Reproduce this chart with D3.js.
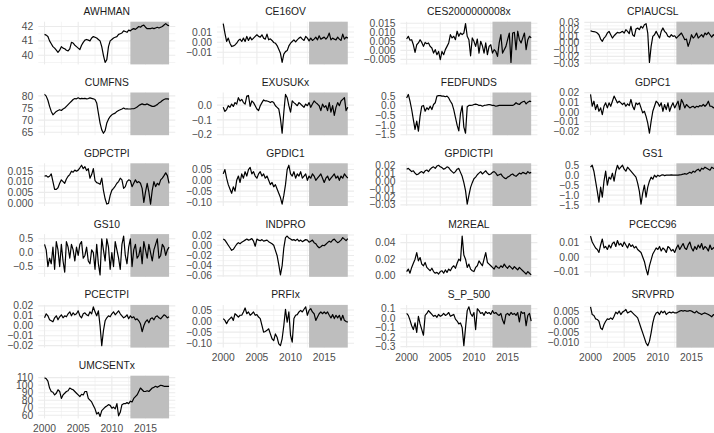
<!DOCTYPE html>
<html>
<head>
<meta charset="utf-8">
<script src="https://cdn.jsdelivr.net/npm/d3@7"></script>
<style>
  body { margin: 0; background: #fff; }
  svg { display: block; }
  text { font-family: "Liberation Sans", Arial, sans-serif; font-size: 10.3px; }
</style>
</head>
<body>
<svg id="chart" width="714" height="433"></svg>
<script>
// quarterly observations, first one is 2000Q1
const startYear = 2000;
const testStart = 2012.75, testEnd = 2018.5;
const xTicks = [2000, 2005, 2010, 2015];

const AWHMAN = [41.45,41.4,41.3,41.0,40.8,40.6,40.5,40.35,40.2,40.35,40.6,40.5,40.45,40.35,40.3,40.45,40.9,40.85,40.7,40.6,40.5,40.4,40.7,40.9,41.05,41.1,41.05,41.0,41.2,41.3,41.25,41.2,41.1,41.0,40.6,40.0,39.5,39.7,40.6,41.0,41.1,41.2,41.25,41.3,41.45,41.5,41.55,41.7,41.65,41.6,41.75,41.7,41.8,41.85,41.8,41.9,42.0,41.95,42.05,42.1,41.95,41.85,41.85,41.85,41.9,41.85,41.9,41.95,41.9,41.95,42.0,42.1,42.2,42.1,42.05];
const CE16OV = [18.3,9,0.7,4,-1,-4.3,-3.7,-2.7,-1,1.7,3,0.7,4,0.7,5.7,1.7,5,2.3,4,5.7,7.3,5.7,5,7.3,4,3,8,2.3,3.3,1.7,-0.3,-1,-3.3,-7,-11,-20,-11.7,-9.3,-8.3,-3.7,-1,0.7,2.3,0.3,2.3,4,5,3,1.7,5.7,4,1.3,4,1.7,3,5,2.3,6.3,3,4,5,3,5,9,2.3,4,3,2.3,5,3,1.7,8,3,5,4].map(v => v / 1000);
const CES2000000008x = [6.3,7.8,5.6,5.9,3.1,-1.1,3.1,4.1,5.9,4.4,2.2,4.4,3.7,4.1,2.2,1.3,-1.5,0.4,-2.4,-0.6,-5.2,-0.6,-2.4,0.4,2.2,4.1,8.7,6.9,7.8,5.9,10.6,7.8,9.6,8.7,9.6,14.8,7.8,5.9,-3,6.9,5,2.2,6.3,-1.5,5,2.6,-1.5,4.1,-2.4,2.2,3.1,-1.5,0.4,-0.6,-3.3,4.1,8.7,-1.5,0.4,2.2,5.9,9.6,-6.7,9.6,10,0.4,10.6,5.9,4.1,6.9,9.6,0.4,5.9,7.8,6.9].map(v => v / 1000);
const CPIAUCSL = [17.7,16.7,16.3,15.8,14.3,11.8,5.4,2,6.9,9.4,14.3,16.7,11.8,6.9,10.3,12.8,15.3,14.3,15.3,16.7,14.3,19.2,16.7,13.3,24.1,11.8,9.4,20.2,21.7,19.2,24.1,21.7,26.6,28.1,14.3,-29,-5.4,9.4,11.8,16.7,11.8,6.9,16.7,21.7,16.7,14.3,9.4,8.4,11.8,9.4,10.3,6.9,9.4,11.8,14.3,9.4,4.4,5.4,-5.4,2,11.8,6.9,9.4,14.3,6.9,9.4,11.8,8.4,14.3,11.8,15.3,11.8,8.4,11.8,9.4].map(v => v / 1000);
const CUMFNS = [80.6,79.9,78.2,75.7,73.6,72.2,72.9,73.6,74,74.3,74,74.6,75,75.7,76.4,77.1,77.8,78.5,78.9,78.8,79.2,78.8,79,78.9,79,78.8,78.9,79.2,79,78.8,78.5,77.1,72.9,68.8,66,64.6,65.7,68.8,70.4,71.5,72.2,72.6,72.9,73.6,74,74.3,74.6,75,74.6,74.7,74.6,74.6,74.7,74.7,75,75.4,76,76.4,76.7,76.4,76.4,76.7,76.3,76,75.7,75.7,76,76.4,77.1,77.5,78.1,78.5,78.8,78.8,78.7];
const EXUSUKx = [-1.5,-4.3,-3,-0.4,-1.5,0.7,-0.9,1.7,0.7,5,2.8,3.9,1.7,0.7,6.1,6.5,-0.9,2.8,1.7,-0.4,-2.6,-3.7,-0.4,1.7,3.5,2.8,2.8,2.4,1.7,2.4,1.7,-0.4,-1.5,-2.6,-9.1,-19,-4.8,7.2,5,-0.4,-4.8,2.8,1.7,0.7,-0.4,1.7,0.7,-0.4,-1.5,0.7,-0.4,1.7,-1.5,0.7,2.8,1.7,0.7,-0.4,-3.7,0.7,-1.5,-0.4,-3.7,1.7,-4.8,-0.4,-7,-1.5,1.7,-0.4,2.8,3.9,5,-3.7,-1.5].map(v => v / 100);
const FEDFUNDS = [0.41,0.59,0.24,-0.19,-0.71,-1.22,-0.79,-1.31,-0.53,-0.02,0.02,-0.28,-0.1,-0.19,-0.02,-0.19,0.07,0.16,0.5,0.53,0.53,0.5,0.5,0.47,0.5,0.41,0.24,0.1,-0.2,-0.6,-1.0,-1.3,-0.4,0.0,-1.1,-1.42,-0.05,0.02,0.02,0.03,0.07,0.09,0.07,0.02,0.03,-0.02,0.02,0.03,0.05,0.07,0.05,0.02,0.02,-0.02,0,0.02,0.02,0.02,0.02,0.03,0.02,0.02,0.03,0.02,0.07,0.16,0.1,0.07,0.16,0.21,0.24,0.1,0.19,0.24,0.22];
const GDPC1 = [18.1,5.9,11.1,2.4,7.7,0.7,4.2,-2.8,5.9,9.4,4.2,9.4,5.9,11.1,16.4,12.9,9.4,11.1,9.4,7.7,9.4,5.9,8.4,6.6,12.9,5.9,2.4,9.4,7.7,9.4,4.2,-1,0.7,-4.5,-11.5,-22,-9.8,0.7,5.9,11.1,9.4,5.9,9.4,0.7,7.7,2.4,9.4,0.7,5.9,9.4,4.2,7.7,11.1,2.4,12.9,9.4,4.2,7.7,5.9,4.2,5.2,5.9,4.2,5.9,5.2,6.6,5.9,7.7,5.9,7.7,11.1,5.9,5.9,4.2,5.9].map(v => v / 1000);
const GDPCTPI = [12.6,12.9,12.2,12.6,13.7,10.1,6.4,6.4,7.2,9.3,10.9,10.1,9.3,11.3,12.6,13.4,15,14.5,15.5,15,15.5,16.6,17.8,16.2,17.1,15.3,16.2,11.7,13.4,16.2,10.6,9.6,9.3,8.8,11.7,6,2,-0.5,-0.2,3.6,6,6.9,8,9.3,10.1,11.7,10.9,6.9,7.7,10.1,10.9,10.6,7.7,9.3,10.9,9.6,10.1,9.3,6.9,0.3,5.2,9.3,5.2,-0.5,6,10.1,7.7,9.3,8.5,10.9,11.7,12.9,14.2,12.9,9.3].map(v => v / 1000);
const GPDIC1 = [3,5,1,-2,-4,-6,-3,-5,0,2,-1,3,1,4,2,5,6,3,4,2,1,3,4,2,3,1,2,0,-2,-1,-3,-2,-4,-6,-8,-11,-7,-2,5,7,3,2,4,1,3,2,4,1,2,3,0,2,1,3,2,0,1,2,3,1,-1,1,2,0,1,2,3,1,2,0,2,1,3,2,1].map(v => v / 100);
const GPDICTPI = [15,16,14,12,13,10,8,9,11,12,10,13,14,12,15,17,18,16,19,20,18,17,15,16,18,17,14,12,10,12,15,16,11,6,-2,-12,-29,-18,-8,-2,3,5,8,10,12,9,11,13,10,8,9,11,12,10,7,8,9,6,4,3,5,6,8,9,7,6,8,10,9,11,10,9,12,10,11].map(v => v / 1000);
const GS1 = [0.4,0.5,0.2,-0.3,-0.8,-1.35,-0.6,-1.1,-0.3,0.2,-0.5,-0.1,-0.2,0.1,-0.3,0.2,0.5,0.3,0.4,0.5,0.3,0.2,0.4,0.3,0.2,0.1,0.0,-0.1,-0.4,-0.8,-1.45,-0.9,-0.5,-1.1,-0.6,-0.3,-0.1,-0.2,0.0,-0.1,0.0,-0.05,0.0,0.02,-0.02,0.0,0.01,0.0,0.02,0.0,0.01,0.0,0.0,0.02,0.03,0.05,0.08,0.05,0.1,0.15,0.1,0.2,0.15,0.25,0.3,0.2,0.35,0.3,0.4,0.35,0.3,0.25,0.4,0.35,0.3];
const GS10 = [0.3,0.1,-0.5,-0.2,-0.4,0.2,-0.6,0.4,0.1,-0.5,0.3,-0.3,-0.7,0.4,0.2,-0.2,0.3,0.1,-0.3,0.2,-0.1,0.3,0.4,-0.2,-0.1,0.2,-0.3,-0.4,0.1,0.0,-0.6,0.3,-0.4,-0.8,0.5,0.1,-0.3,0.5,0.2,-0.6,0.0,-0.5,0.4,0.1,-0.2,-0.6,0.3,0.6,-0.1,-0.4,0.2,0.5,-0.5,0.1,0.3,-0.2,-0.1,0.2,-0.4,0.4,0.1,-0.2,0.3,0.0,-0.3,0.1,0.3,0.5,-0.2,-0.1,0.3,0.2,-0.1,0.1,0.2];
const INDPRO = [12,10,5,0,-5,-10,-8,-3,2,5,3,6,8,10,12,10,11,13,8,-2,12,10,9,11,8,9,10,7,5,3,0,-10,-20,-38,-58,-40,-5,15,18,14,12,10,11,9,12,8,10,7,9,11,10,6,8,10,5,3,-2,-5,-3,0,-1,2,5,8,6,10,12,8,5,7,10,15,12,9,13].map(v => v / 1000);
const M2REAL = [5,8,3,10,15,20,28,18,22,14,12,16,10,8,6,9,5,3,4,2,5,6,3,7,4,8,6,10,12,9,15,20,18,48,25,20,10,14,8,6,5,10,12,18,15,12,20,28,16,14,12,10,8,12,10,9,12,10,14,11,9,12,10,8,11,9,7,10,8,6,4,2,5,3,1].map(v => v / 1000);
const PCECC96 = [14,10,8,6,5,3,8,12,6,7,5,8,6,9,10,7,11,8,9,7,10,8,6,9,7,8,6,7,5,4,3,0,-3,-8,-12,-6,-2,2,4,6,5,7,4,6,5,3,7,6,4,5,3,6,8,5,7,9,6,5,8,10,6,4,7,5,8,6,9,5,7,6,4,8,5,6,7].map(v => v / 1000);
const PCECTPI = [8,12,10,6,5,4,8,10,6,9,11,8,10,9,12,14,10,13,11,12,15,10,8,12,13,11,10,14,12,19,14,10,15,0,-20,-5,5,8,10,9,12,14,11,13,15,12,10,8,9,11,7,10,8,9,6,7,5,2,-6,0,4,6,3,7,8,6,9,10,8,7,9,11,10,8,9].map(v => v / 1000);
const PRFIx = [1.1,0.3,-1.2,0.3,1.1,1.8,0.3,3.3,2.6,1.8,2.6,2.6,4.1,5.9,3.3,4.1,2.6,3.3,4.1,2.6,2.9,1.8,1.1,-2,-5,-4.7,-4.2,-3.5,-5.8,-8,-8.8,-5.8,-7.3,-10.3,-11.1,-8,-2,5.3,-0.5,4.1,-6.5,-9.5,1.1,2.6,2.9,4.1,4.8,4.1,5.3,6.4,2.6,4.8,5.6,4.1,3.3,0.3,1.8,3.3,4.1,3.3,4.1,3.3,4.1,2.6,1.4,2.9,1.1,2.6,1.4,2.6,0.3,2.6,0.3,-0.2,-0.5].map(v => v / 100);
const S_P_500 = [5,3,-2,-8,-12,-5,-15,2,-6,-12,-18,3,5,8,6,4,2,3,1,4,2,3,5,3,4,6,2,3,4,-1,-3,-6,-5,-10,-29,-10,8,12,5,2,6,-12,10,8,5,6,3,7,5,6,4,8,5,6,4,3,5,-2,-6,4,5,3,6,4,5,3,6,-4,7,5,6,-8,3,5,-3].map(v => v / 100);
const SRVPRD = [7.4,3.6,3.1,1.5,1.2,0.3,-3,-3.8,-1.3,0.3,1.5,1.2,2,1.2,2.8,4.8,4,5.3,3.6,4.8,5.3,6.1,4.4,4.9,5.3,4.4,3.6,2.8,2,-0.5,-3,-5.4,-7.9,-10.4,-11.7,-9.6,-5.4,-0.5,2.8,4.4,4.8,3.6,5.3,4.4,5.3,3.6,4.4,4.8,4.4,4.9,4.4,4.4,4.9,5.3,5.6,5.3,5.6,5.3,5.3,5.6,5.3,4.8,4.4,5.3,4.4,4.1,3.6,4.1,4.4,4,3.6,3.1,2.5,3.6,3.1].map(v => v / 1000);
const UMCSENTx = [110,108.6,105.4,96.2,91.6,90.6,87,89.3,93.9,91.6,82.4,87,89.3,91.6,92.5,96.2,94.8,93.9,91.6,89.3,87,84.7,87.9,87,91.6,91.6,82.4,80,77.7,73.1,68.5,61.6,63.9,58.4,66.2,68.5,70.8,72.2,74.1,73.1,69.4,70.8,68.5,75.4,59.3,63.9,74.1,75.4,75.4,76.8,75.4,78.7,77.7,82.4,84.7,87,91.6,96.2,93.9,91.6,91.6,92.5,91.6,93.9,96.2,97.1,98.5,97.1,98.5,99.9,99.4,98.5,98.5,98.5,98.3];

const panelNames = ["AWHMAN","CE16OV","CES2000000008x","CPIAUCSL","CUMFNS","EXUSUKx","FEDFUNDS","GDPC1","GDPCTPI","GPDIC1","GPDICTPI","GS1","GS10","INDPRO","M2REAL","PCECC96","PCECTPI","PRFIx","S_P_500","SRVPRD","UMCSENTx"];
const panelValues = [AWHMAN,CE16OV,CES2000000008x,CPIAUCSL,CUMFNS,EXUSUKx,FEDFUNDS,GDPC1,GDPCTPI,GPDIC1,GPDICTPI,GS1,GS10,INDPRO,M2REAL,PCECC96,PCECTPI,PRFIx,S_P_500,SRVPRD,UMCSENTx];
const panelTicks = [
  [40,41,42], [-0.01,0,0.01], [-0.005,0,0.005,0.01,0.015], [-0.03,-0.02,-0.01,0,0.01,0.02,0.03],
  [65,70,75,80], [-0.2,-0.1,0], [-1.5,-1,-0.5,0,0.5], [-0.02,-0.01,0,0.01,0.02],
  [0,0.005,0.01,0.015], [-0.1,-0.05,0,0.05], [-0.03,-0.02,-0.01,0,0.01,0.02], [-1.5,-1,-0.5,0,0.5],
  [-0.5,0,0.5], [-0.06,-0.04,-0.02,0,0.02], [0,0.02,0.04], [-0.01,0,0.01],
  [-0.02,-0.01,0,0.01,0.02], [-0.1,-0.05,0,0.05], [-0.3,-0.2,-0.1,0,0.1], [-0.01,-0.005,0,0.005],
  [60,70,80,90,100,110]
];
const panelFormats = [".0f",".2f",".3f",".2f",".0f",".1f",".1f",".2f",".3f",".2f",".2f",".1f",".1f",".2f",".2f",".2f",".2f",".2f",".1f",".3f",".0f"];

// layout of the 4-column facet grid
const colX = [38.3, 217, 400.4, 584.3];
const rowY = [21.7, 92.5, 163.3, 234.1, 304.9, 375.7];
const panelW = 137, panelH = 42.7;

const svg = d3.select("#chart");

const tSpan = testEnd - startYear;
const x = d3.scaleLinear()
  .domain([startYear - 0.05 * tSpan, testEnd + 0.05 * tSpan])
  .range([0, panelW]);
const xMinor = [2002.5, 2007.5, 2012.5, 2017.5];

panelNames.forEach((name, k) => {
  const col = k % 4, row = Math.floor(k / 4);
  const g = svg.append("g").attr("transform", `translate(${colX[col]},${rowY[row]})`);
  const vals = panelValues[k];
  const data = vals.map((v, i) => ({ t: startYear + i / 4, v }));

  const [lo, hi] = d3.extent(vals);
  const pad = (hi - lo) * 0.05;
  const y = d3.scaleLinear().domain([lo - pad, hi + pad]).range([panelH, 0]);

  const ticks = panelTicks[k];
  const step = ticks[1] - ticks[0];
  const yMinor = [];
  for (let j = -1; j < ticks.length; j++) {
    const m = ticks[0] + (j + 0.5) * step;
    if (m >= lo - pad && m <= hi + pad) yMinor.push(m);
  }

  // minor grid
  g.selectAll(".ymin").data(yMinor).enter().append("line")
    .attr("x1", 0).attr("x2", panelW).attr("y1", d => y(d)).attr("y2", d => y(d))
    .attr("stroke", "#EBEBEB").attr("stroke-width", 0.55);
  g.selectAll(".xmin").data(xMinor).enter().append("line")
    .attr("y1", 0).attr("y2", panelH).attr("x1", d => x(d)).attr("x2", d => x(d))
    .attr("stroke", "#EBEBEB").attr("stroke-width", 0.55);
  // major grid
  g.selectAll(".ymaj").data(ticks).enter().append("line")
    .attr("x1", 0).attr("x2", panelW).attr("y1", d => y(d)).attr("y2", d => y(d))
    .attr("stroke", "#EBEBEB").attr("stroke-width", 1.1);
  g.selectAll(".xmaj").data(xTicks).enter().append("line")
    .attr("y1", 0).attr("y2", panelH).attr("x1", d => x(d)).attr("x2", d => x(d))
    .attr("stroke", "#EBEBEB").attr("stroke-width", 1.1);

  // test period shading
  g.append("rect")
    .attr("x", x(testStart)).attr("width", x(testEnd) - x(testStart))
    .attr("y", 0).attr("height", panelH)
    .attr("fill", "#BEBEBE");

  g.append("path")
    .datum(data)
    .attr("fill", "none")
    .attr("stroke", "#000")
    .attr("stroke-width", 1.2)
    .attr("stroke-linejoin", "round")
    .attr("d", d3.line().x(d => x(d.t)).y(d => y(d.v)));

  // strip title
  g.append("text")
    .attr("x", panelW / 2).attr("y", -6.5)
    .attr("text-anchor", "middle")
    .attr("fill", "#1A1A1A")
    .text(name);

  // y axis labels
  const fmt = d3.format(panelFormats[k]);
  g.selectAll(".ylab").data(ticks).enter().append("text")
    .attr("x", -5).attr("y", d => y(d)).attr("dy", "0.35em")
    .attr("text-anchor", "end")
    .attr("fill", "#4D4D4D")
    .text(d => fmt(d));

  // x axis labels on the lowest panel of each column
  if (k + 4 >= panelNames.length) {
    g.selectAll(".xlab").data(xTicks).enter().append("text")
      .attr("x", d => x(d)).attr("y", panelH + 13.5)
      .attr("text-anchor", "middle")
      .attr("fill", "#4D4D4D")
      .text(d => d);
  }
});
</script>
</body>
</html>
